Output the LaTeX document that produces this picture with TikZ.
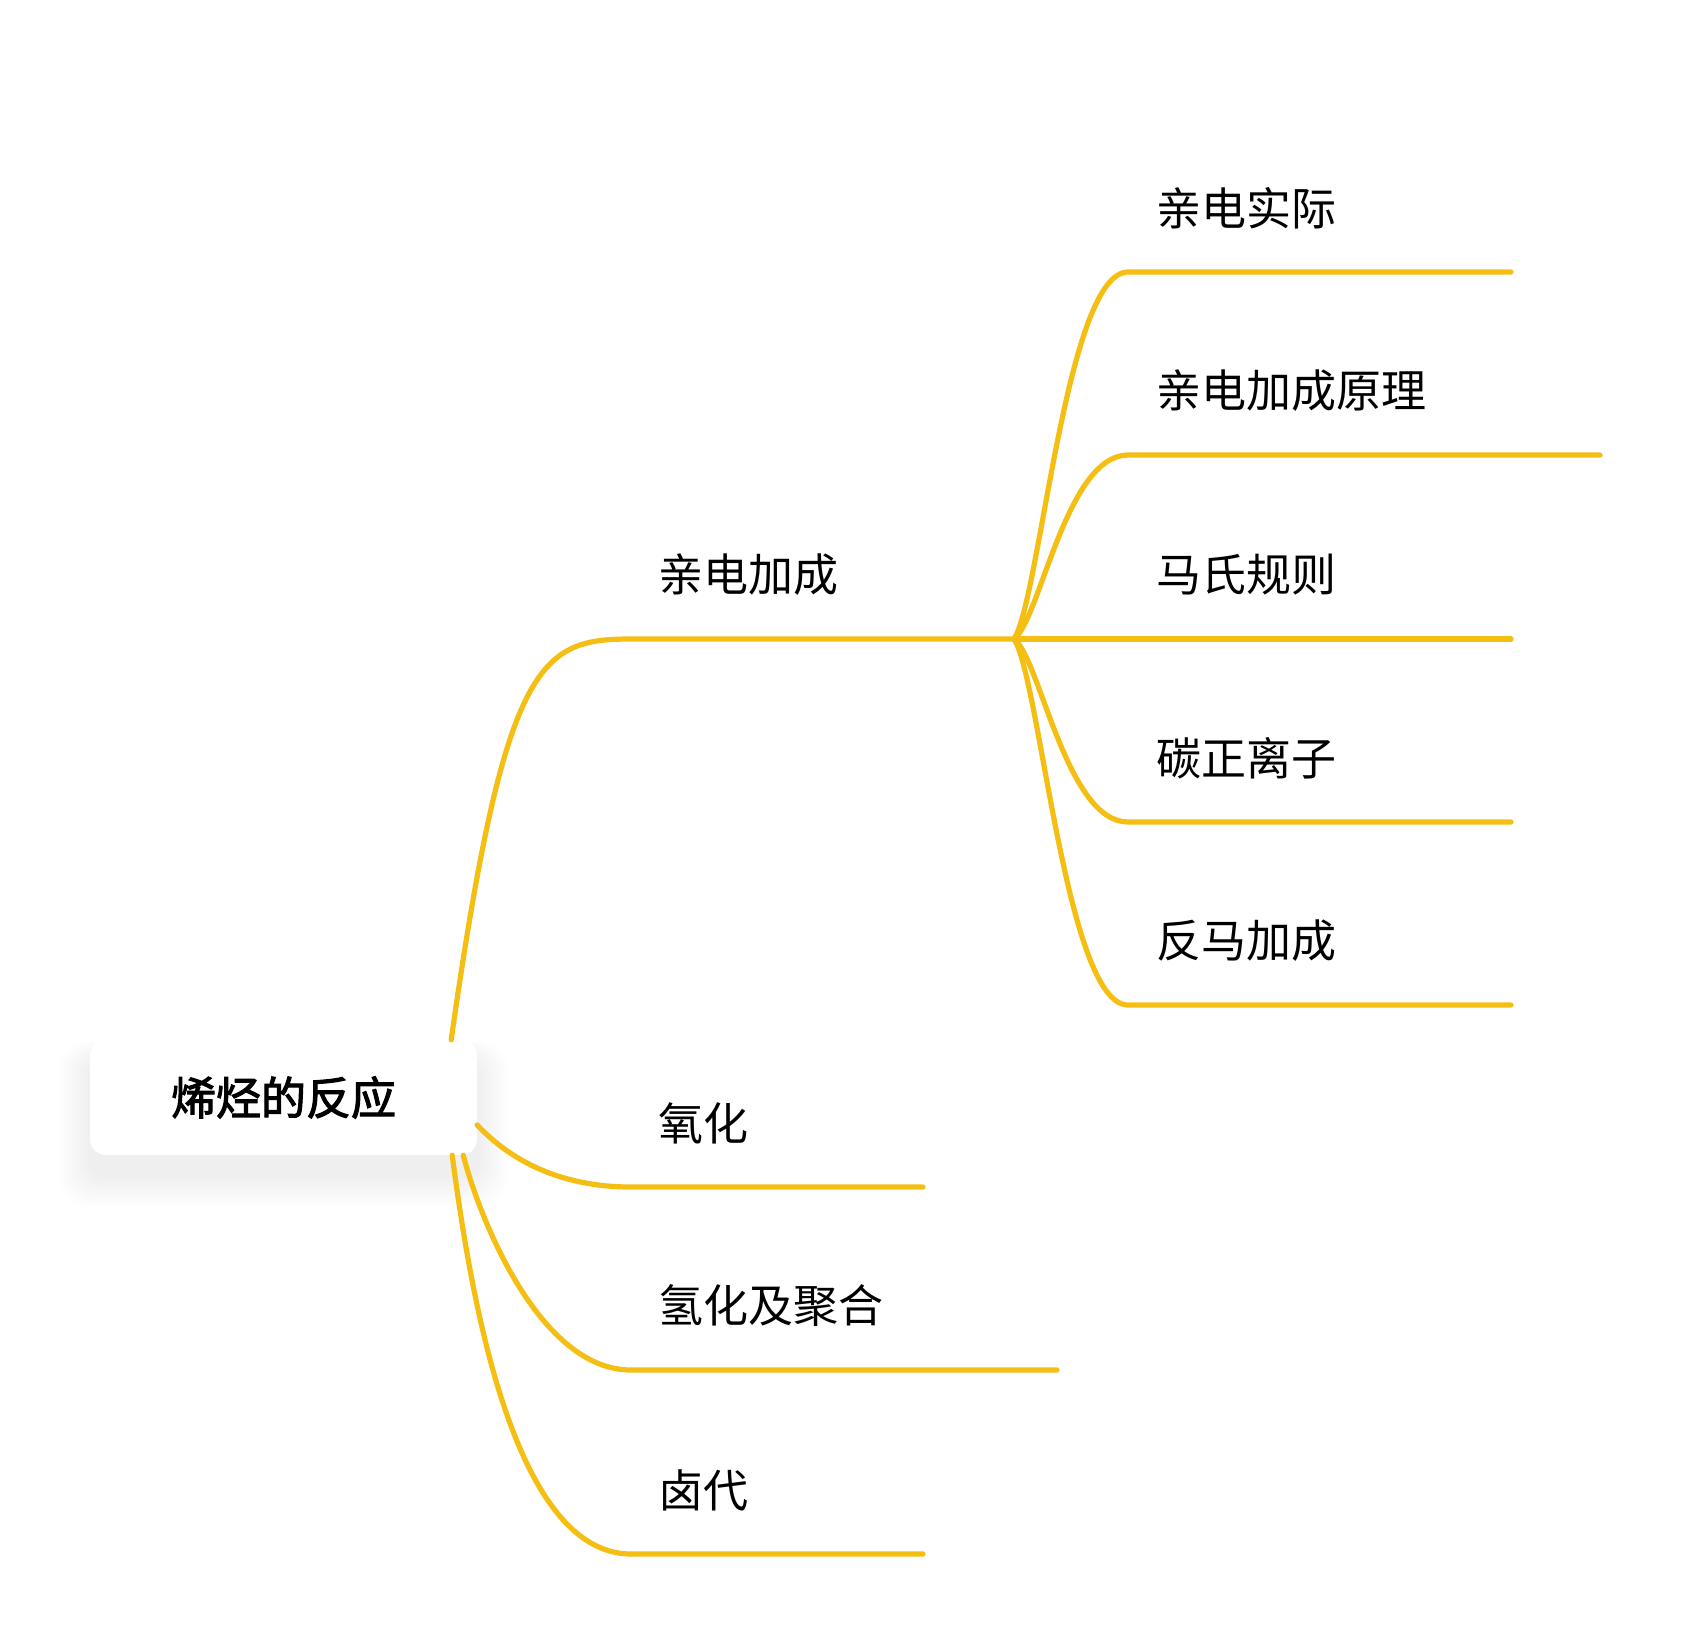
\documentclass[tikz,border=0pt]{standalone}
\usepackage{fontspec}
\newfontfamily\cjk{Noto Sans CJK SC}
\newfontfamily\cjkmid[FakeBold=2.4]{Noto Sans CJK SC}
\usetikzlibrary{calc}
\definecolor{branch}{HTML}{F5BE12}
\begin{document}
\begin{tikzpicture}[x=1pt,y=-1pt,
  link/.style={draw=branch, line width=5.2pt, line cap=round},
  topic/.style={anchor=west, inner sep=0pt, text=black,
    font=\cjk\fontsize{45}{54}\selectfont},
  rootbox/.style={fill=white, rounded corners=16pt, inner sep=0pt,
    minimum width=387pt, minimum height=115pt,
    font=\cjkmid\fontsize{45}{54}\selectfont}]
\useasboundingbox (0,0) rectangle (1692,1647);
\fill[white] (0,0) rectangle (1692,1647);

% soft shadow under the central topic
\coordinate (rc) at (283.5,1097.5);
\foreach \s in {1,...,16}{
  \fill[black, opacity=0.0045, rounded corners={16pt+\s pt}]
    ($(rc)+(-193.5-\s*2,-57.5-\s*1.2+20)$) rectangle
    ($(rc)+(193.5+\s*2,57.5+\s*2+20)$);
}

% central topic
\node[rootbox] (root) at (rc) {烯烃的反应};

% first-level topics
\node[topic] (a1) at (658,575)  {亲电加成};
\node[topic] (a2) at (658,1123) {氧化};
\node[topic] (a3) at (658,1306) {氢化及聚合};
\node[topic] (a4) at (658,1490) {卤代};

% second-level topics
\node[topic] (b1) at (1156,208) {亲电实际};
\node[topic] (b2) at (1156,391) {亲电加成原理};
\node[topic] (b3) at (1156,575) {马氏规则};
\node[topic] (b4) at (1156,758) {碳正离子};
\node[topic] (b5) at (1156,941) {反马加成};

% underline end points
\coordinate (a1s) at (631,639);
\coordinate (hub) at (1014,639);
\coordinate (a2s) at (631,1187);  \coordinate (a2e) at (923,1187);
\coordinate (a3s) at (631,1370);  \coordinate (a3e) at (1057,1370);
\coordinate (a4s) at (631,1554);  \coordinate (a4e) at (923,1554);
\coordinate (b1s) at (1128,272);  \coordinate (b1e) at (1511,272);
\coordinate (b2s) at (1128,455);  \coordinate (b2e) at (1600,455);
\coordinate (b3e) at (1511,639);
\coordinate (b4s) at (1128,822);  \coordinate (b4e) at (1511,822);
\coordinate (b5s) at (1128,1005); \coordinate (b5e) at (1511,1005);

% start points on the central topic's edges
\coordinate (r1) at ($(root.north east)+(-26,0)$);
\coordinate (r2) at ($(root.east)+(0,27.5)$);
\coordinate (r3) at ($(root.south east)+(-14,0)$);
\coordinate (r4) at ($(root.south east)+(-25,0)$);

% branches from the central topic
\draw[link] (r1) .. controls (505,660) and (540,639) .. (a1s) -- (hub);
\draw[link] (r2) .. controls (510,1160) and (560,1187) .. (a2s) -- (a2e);
\draw[link] (r3) .. controls (480,1220) and (540,1370) .. (a3s) -- (a3e);
\draw[link] (r4) .. controls (470,1290) and (512,1554) .. (a4s) -- (a4e);

% branches from 亲电加成
\draw[link] (hub) .. controls (1040,600) and (1066,272) .. (b1s) -- (b1e);
\draw[link] (hub) .. controls (1040,620) and (1066,455) .. (b2s) -- (b2e);
\draw[link] (hub) -- (b3e);
\draw[link] (hub) .. controls (1040,658) and (1066,822) .. (b4s) -- (b4e);
\draw[link] (hub) .. controls (1040,678) and (1066,1005) .. (b5s) -- (b5e);
\end{tikzpicture}
\end{document}
